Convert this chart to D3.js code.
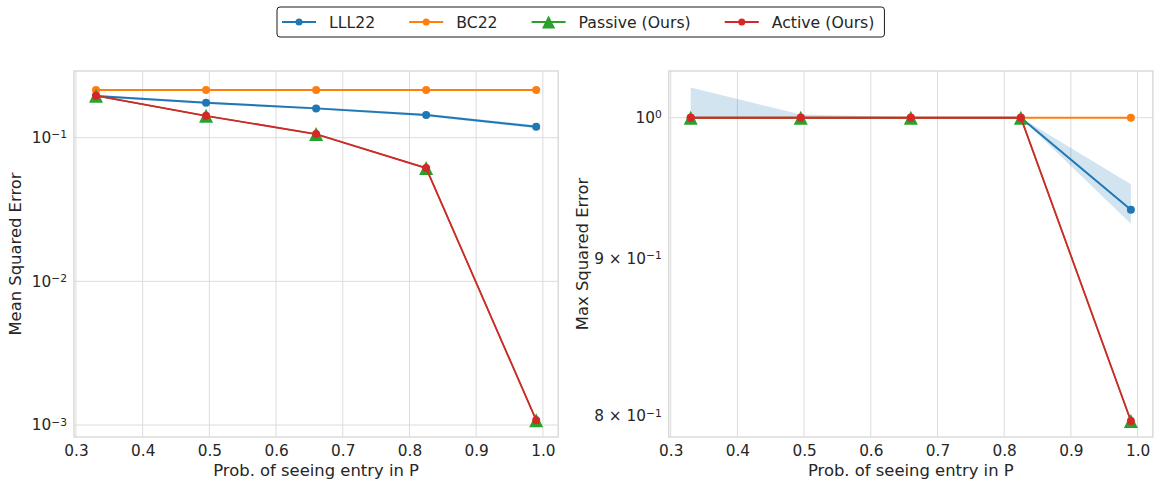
<!DOCTYPE html>
<html>
<head>
<meta charset="utf-8">
<script src="https://cdn.jsdelivr.net/npm/d3@7"></script>
<style>
  body { margin: 0; background: #fff; }
  text { font-family: "DejaVu Sans", sans-serif; fill: #262626; }
</style>
</head>
<body>
<svg id="chart" width="1156" height="484"></svg>
<script>
// x values: probability of seeing an entry in P
var probs = [0.33, 0.495, 0.66, 0.825, 0.99];
var xTicks = [0.3, 0.4, 0.5, 0.6, 0.7, 0.8, 0.9, 1.0];

// left panel: mean squared error
var mseLLL22   = [0.195, 0.175, 0.160, 0.144, 0.119];
var mseLLL22Hi = [0.199, 0.178, 0.163, 0.147, 0.122];
var mseLLL22Lo = [0.191, 0.172, 0.157, 0.141, 0.116];
var mseBC22    = [0.215, 0.215, 0.215, 0.215, 0.215];
var mseBC22Hi  = [0.218, 0.218, 0.218, 0.218, 0.218];
var mseBC22Lo  = [0.212, 0.212, 0.212, 0.212, 0.212];
var msePassive = [0.196, 0.142, 0.106, 0.0615, 0.00108];
var mseActive  = [0.196, 0.142, 0.106, 0.0615, 0.00108];
var mseTicks = [1e-3, 1e-2, 1e-1];
var mseTickLabels = [["10", "\u22123"], ["10", "\u22122"], ["10", "\u22121"]];

// right panel: max squared error
var maxLLL22   = [1.0, 1.0, 1.0, 1.0, 0.9335];
var maxLLL22Hi = [1.0228, 1.0025, 1.0003, 1.0, 0.9514];
var maxLLL22Lo = [1.0, 1.0, 1.0, 1.0, 0.9237];
var maxBC22    = [1.0, 1.0, 1.0, 1.0, 1.0];
var maxPassive = [1.0, 1.0, 1.0, 1.0, 0.797];
var maxActive  = [1.0, 1.0, 1.0, 1.0, 0.797];
var maxTicks = [0.8, 0.9, 1.0];
var maxTickLabels = [["8 \u00d7 10", "\u22121"], ["9 \u00d7 10", "\u22121"], ["10", "0"]];
var maxGridTicks = [1.0];

var seriesNames = ["LLL22", "BC22", "Passive (Ours)", "Active (Ours)"];
var colors = {"LLL22": "#1f77b4", "BC22": "#ff7f0e", "Passive (Ours)": "#2ca02c", "Active (Ours)": "#d62728"};
var widths = {"LLL22": 2, "BC22": 2, "Passive (Ours)": 1.4, "Active (Ours)": 1.8};

var svg = d3.select("#chart");
var top_ = 71, bottom = 437;

function triangle(s) {
    return `M0,${-s}L${s},${s}L${-s},${s}Z`;
}

function panel(opts) {
    var g = svg.append("g");
    var x = d3.scaleLinear().domain([0.297, 1.023]).range([opts.left, opts.right]);
    var y = d3.scaleLog().domain(opts.yDomain).range([bottom, top_]);

    // grid
    g.selectAll(".vgrid").data(xTicks).join("line")
        .attr("x1", d => x(d)).attr("x2", d => x(d))
        .attr("y1", top_).attr("y2", bottom)
        .attr("stroke", "#dcdcdc").attr("stroke-width", 1);
    g.selectAll(".hgrid").data(opts.gridTicks).join("line")
        .attr("x1", opts.left).attr("x2", opts.right)
        .attr("y1", d => y(d)).attr("y2", d => y(d))
        .attr("stroke", "#dcdcdc").attr("stroke-width", 1);

    // spines
    g.append("rect")
        .attr("x", opts.left).attr("y", top_)
        .attr("width", opts.right - opts.left).attr("height", bottom - top_)
        .attr("fill", "none").attr("stroke", "#d4d4d4").attr("stroke-width", 1.25);

    // axes
    var xAxis = g.append("g")
        .attr("transform", `translate(0,${bottom})`)
        .call(d3.axisBottom(x).tickValues(xTicks).tickSize(0).tickPadding(8).tickFormat(d3.format(".1f")));
    xAxis.select(".domain").remove();
    xAxis.selectAll("text").attr("font-size", 15.3).attr("fill", "#262626")
        .attr("font-family", "DejaVu Sans");

    var yAxis = g.append("g")
        .attr("transform", `translate(${opts.left},0)`)
        .call(d3.axisLeft(y).tickValues(opts.yTicks).tickSize(0).tickPadding(7).tickFormat(""));
    yAxis.select(".domain").remove();
    yAxis.selectAll(".tick text").each(function (d, i) {
        var t = d3.select(this)
            .attr("font-size", 15.3).attr("fill", "#262626").attr("font-family", "DejaVu Sans");
        t.text(opts.yLabels[i][0]);
        t.append("tspan").attr("dy", "-0.45em").attr("font-size", "0.7em").text(opts.yLabels[i][1]);
    });

    // axis titles
    g.append("text")
        .attr("x", (opts.left + opts.right) / 2).attr("y", 476)
        .attr("text-anchor", "middle").attr("font-size", 16.4)
        .text("Prob. of seeing entry in P");
    g.append("text")
        .attr("transform", `translate(${opts.yTitleX},${(top_ + bottom) / 2}) rotate(-90)`)
        .attr("text-anchor", "middle").attr("font-size", 16.4)
        .text(opts.yTitle);

    var line = d3.line().x((d, i) => x(probs[i])).y(d => y(d));
    var area = d3.area().x((d, i) => x(probs[i]))
        .y0(d => y(d[0])).y1(d => y(d[1]));

    opts.series.forEach(function (s) {
        var c = colors[s.name];
        if (s.lo) {
            g.append("path")
                .datum(s.lo.map((v, i) => [v, s.hi[i]]))
                .attr("d", area)
                .attr("fill", c).attr("fill-opacity", 0.2).attr("stroke", "none");
        }
        g.append("path").datum(s.values).attr("d", line)
            .attr("fill", "none").attr("stroke", c).attr("stroke-width", widths[s.name]);
        if (s.marker === "triangle") {
            g.selectAll(null).data(s.values).join("path")
                .attr("transform", (d, i) => `translate(${x(probs[i])},${y(d)})`)
                .attr("d", triangle(7)).attr("fill", c);
        } else {
            g.selectAll(null).data(s.values).join("circle")
                .attr("cx", (d, i) => x(probs[i])).attr("cy", d => y(d))
                .attr("r", 4).attr("fill", c);
        }
    });
}

panel({
    left: 74, right: 558.2,
    yDomain: [Math.pow(10, -3.0835), Math.pow(10, -0.5357)],
    yTicks: mseTicks, gridTicks: mseTicks, yLabels: mseTickLabels,
    yTitle: "Mean Squared Error", yTitleX: 21,
    series: [
        {name: "LLL22", values: mseLLL22, lo: mseLLL22Lo, hi: mseLLL22Hi},
        {name: "BC22", values: mseBC22, lo: mseBC22Lo, hi: mseBC22Hi},
        {name: "Passive (Ours)", values: msePassive, marker: "triangle"},
        {name: "Active (Ours)", values: mseActive}
    ]
});

panel({
    left: 668.7, right: 1152.9,
    yDomain: [0.7875, 1.0356],
    yTicks: maxTicks, gridTicks: maxGridTicks, yLabels: maxTickLabels,
    yTitle: "Max Squared Error", yTitleX: 588,
    series: [
        {name: "LLL22", values: maxLLL22, lo: maxLLL22Lo, hi: maxLLL22Hi},
        {name: "BC22", values: maxBC22},
        {name: "Passive (Ours)", values: maxPassive, marker: "triangle"},
        {name: "Active (Ours)", values: maxActive}
    ]
});

// legend
var legend = svg.append("g");
var box = legend.append("rect")
    .attr("y", 7).attr("height", 30).attr("rx", 3)
    .attr("fill", "#fff").attr("stroke", "#1a1a1a").attr("stroke-width", 1);
var lx = 282;
seriesNames.forEach(function (name) {
    var c = colors[name];
    legend.append("line")
        .attr("x1", lx).attr("x2", lx + 34).attr("y1", 22).attr("y2", 22)
        .attr("stroke", c).attr("stroke-width", 2);
    if (name === "Passive (Ours)") {
        legend.append("path").attr("transform", `translate(${lx + 17},22)`)
            .attr("d", triangle(6.6)).attr("fill", c);
    } else {
        legend.append("circle").attr("cx", lx + 17).attr("cy", 22).attr("r", 3.5).attr("fill", c);
    }
    var t = legend.append("text")
        .attr("x", lx + 47).attr("y", 27.5).attr("font-size", 15.7).text(name);
    lx += 47 + t.node().getComputedTextLength() + 34;
});
box.attr("x", 277).attr("width", lx - 34 + 10 - 277);
</script>
</body>
</html>
